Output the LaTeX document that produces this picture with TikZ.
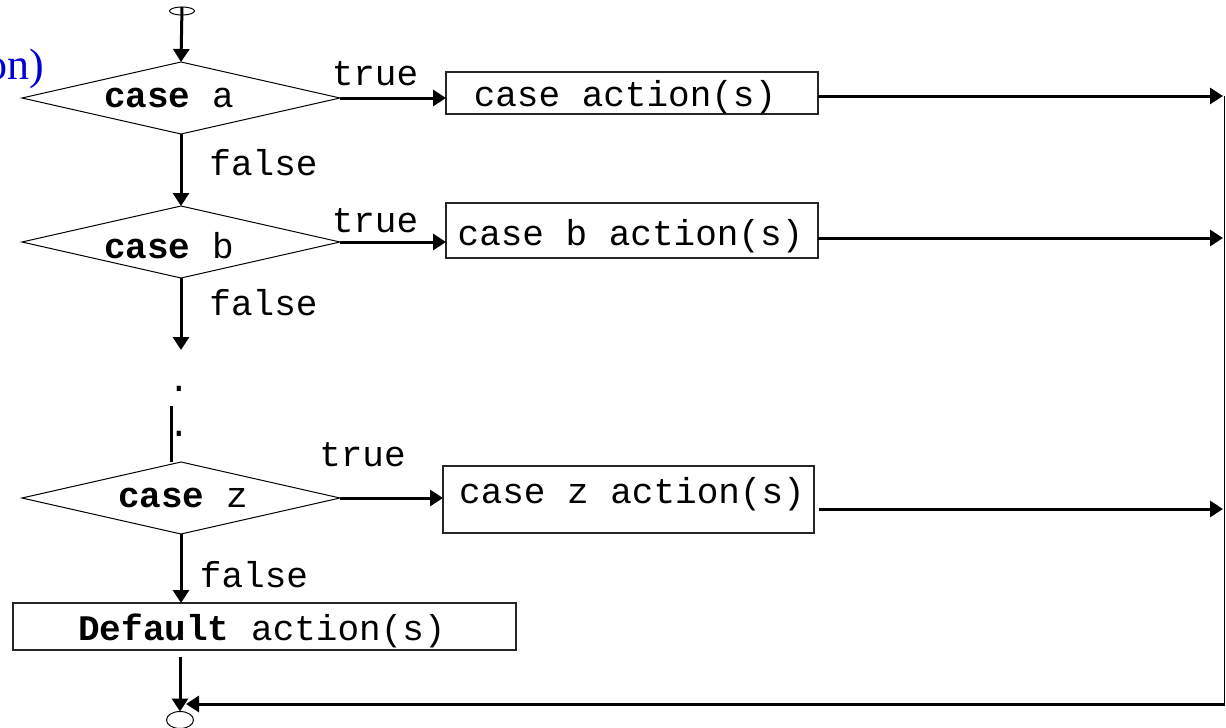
\documentclass[tikz,border=0pt]{standalone}
\usepackage{fontspec}
\setmainfont{Liberation Serif}
\setmonofont{Liberation Mono}
\usetikzlibrary{shapes.geometric,arrows.meta}
\definecolor{titleblue}{RGB}{0,0,210}

\begin{document}
\begin{tikzpicture}[x=1pt,y=-1pt,
  every node/.style={inner sep=0pt,outer sep=0pt},
  decision/.style={diamond,draw,line width=1pt,minimum width=318pt,minimum height=72pt},
  actbox/.style={rectangle,draw=black!85,line width=1.2pt},
  terminal/.style={ellipse,draw,line width=1pt},
  lbl/.style={font=\fontsize{36}{40}\selectfont\ttfamily,anchor=base},
  flow/.style={line width=3pt,-{Triangle[length=13pt,width=16pt]}},
  plain/.style={line width=3pt},
  rail/.style={line width=1.6pt}]
\useasboundingbox (0,0) rectangle (1226,728);

% cut-off heading at the upper left
\begin{scope}
  \clip (0,0) rectangle (1226,728);
  \node[font=\fontsize{44}{48}\selectfont,text=titleblue,anchor=base east] (head) at (44,79) {on)};
\end{scope}

% terminals
\node[terminal,minimum width=25pt,minimum height=8pt] (st) at (182,11) {};
\node[terminal,minimum width=27pt,minimum height=17pt] (en) at (180,720) {};

% decisions
\node[decision] (da) at (181,98) {};
\node[decision] (db) at (181,242) {};
\node[decision] (dz) at (181,498) {};

% action boxes
\node[actbox,minimum width=372pt,minimum height=42pt] (ba) at (632,93) {};
\node[actbox,minimum width=372pt,minimum height=55pt] (bb) at (632,230.5) {};
\node[actbox,minimum width=371pt,minimum height=67pt] (bz) at (628.5,499.5) {};
\node[actbox,minimum width=503pt,minimum height=47pt] (bd) at (264.5,626.5) {};

% texts
\node[lbl] (ta) at (169,107) {\textbf{case} a};
\node[lbl] (tb) at (169,258) {\textbf{case} b};
\node[lbl] (tz) at (183,507) {\textbf{case} z};
\node[lbl] (xa) at (625,106) {case action(s)};
\node[lbl] (xb) at (630.5,245) {case b action(s)};
\node[lbl] (xz) at (632,503) {case z action(s)};
\node[lbl] (xd) at (262,640) {\textbf{Default} action(s)};
\node[lbl] (ya) at (375,85) {true};
\node[lbl] (yb) at (375,232) {true};
\node[lbl] (yz) at (362.5,466) {true};
\node[lbl] (na) at (263.5,175) {false};
\node[lbl] (nb) at (263.5,315) {false};
\node[lbl] (nz) at (254,587) {false};
\node[lbl] (p1) at (179,391) {.};
\node[lbl] (p2) at (179,436) {.};

% free ends of connectors
\coordinate (gap) at (181,350);
\coordinate (v1) at (171,406);
\coordinate (ra) at (1223,96);
\coordinate (rb) at (1223,238);
\coordinate (rz) at (1223,509);
\coordinate (railtop) at (1224.5,96);
\coordinate (railbot) at (1224.5,704);
\coordinate (rt) at (186,704);

% main flow
\draw[flow] (st.north) -- (da.north);
\draw[flow] (da.south) -- (db.north);
\draw[flow] (db.south) -- (gap);
\draw[plain] (v1) -- (v1 |- dz.north);
\draw[flow] (dz.south) -- (dz.south |- bd.north);
\draw[flow,shorten <=7pt] (bd.south -| en.north) -- (en.north);

% true branches
\draw[flow] (da.east) -- (da.east -| ba.west);
\draw[flow] (db.east) -- (db.east -| bb.west);
\draw[flow] (dz.east) -- (dz.east -| bz.west);

% to the collecting rail
\draw[flow] (ba.east |- ra) -- (ra);
\draw[flow] (bb.east |- rb) -- (rb);
\draw[flow,shorten <=5pt] (bz.east |- rz) -- (rz);
\draw[rail] (railtop) -- (railbot);
\draw[flow] (railbot) -- (rt);
\end{tikzpicture}
\end{document}
